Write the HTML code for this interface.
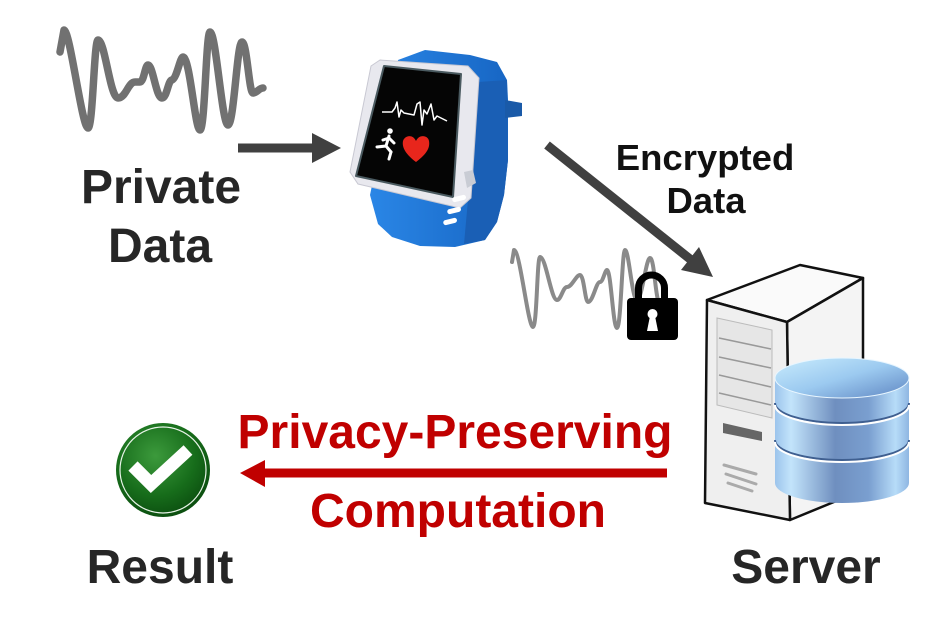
<!DOCTYPE html>
<html><head><meta charset="utf-8"><style>
html,body{margin:0;padding:0;background:#fff;}
svg{display:block;}
text{font-family:"Liberation Sans",Arial,sans-serif;font-weight:bold;}
</style></head><body>
<svg width="932" height="622" viewBox="0 0 932 622" xmlns="http://www.w3.org/2000/svg">
<defs>
<linearGradient id="cyl" x1="0" y1="0" x2="1" y2="0">
<stop offset="0" stop-color="#9cc4ec"/><stop offset="0.12" stop-color="#c3e4fb"/><stop offset="0.45" stop-color="#6f8fbf"/><stop offset="0.7" stop-color="#7a9fd0"/><stop offset="0.9" stop-color="#b7dcf8"/><stop offset="1" stop-color="#8fb6e2"/>
</linearGradient>
<linearGradient id="cyltop" x1="0" y1="0" x2="1" y2="1">
<stop offset="0" stop-color="#c9ecfd"/><stop offset="0.5" stop-color="#9ccaf0"/><stop offset="1" stop-color="#5f86c2"/>
</linearGradient>
<radialGradient id="chk" cx="0.42" cy="0.35" r="0.7">
<stop offset="0" stop-color="#3c9a3c"/><stop offset="0.6" stop-color="#176d1b"/><stop offset="1" stop-color="#0a4a0e"/>
</radialGradient>
<linearGradient id="band" x1="0" y1="0" x2="1" y2="0">
<stop offset="0" stop-color="#2a86e6"/><stop offset="1" stop-color="#1766c4"/>
</linearGradient>
</defs>

<!-- waveform 1 -->
<path d="M60,52 L64,30 C70,30 82,128 88,128 C93,128 94,40 98,40 C105,40 110,98 118,98 C126,98 128,82 135,82 L140,82 C144,82 145,65 148,65 C153,65 156,98 162,98 C167,98 168,80 172,80 C177,78 180,57 183,57 C190,57 195,130 200,130 C205,130 206,32 210,32 C216,32 222,125 228,125 C234,125 237,42 242,42 C247,42 249,93 253,93 C257,93 259,88 263,88" fill="none" stroke="#717171" stroke-width="7.5" stroke-linejoin="round" stroke-linecap="round"/>

<!-- arrow 1 -->
<line x1="238" y1="148" x2="316" y2="148" stroke="#404040" stroke-width="9"/>
<polygon points="312,133 341,148 312,163" fill="#404040"/>

<!-- Private Data -->
<text x="161" y="203" font-size="48" fill="#262626" text-anchor="middle">Private</text>
<text x="160" y="262" font-size="48" fill="#262626" text-anchor="middle">Data</text>

<!-- watch -->
<polygon points="398,60 425,50 470,55 497,62 507,80 508,100 508,160 504,195 497,222 485,240 455,247 420,246 392,237 378,224 370,195" fill="url(#band)"/>
<polygon points="478,82 507,80 508,160 504,195 497,222 485,240 464,244 468,200" fill="#1a5fb5"/>
<polygon points="505,100 522,103 522,116 505,118" fill="#1a5aa8"/>
<polygon points="380,60 468,66 479,78 471,198 460,208 358,184 350,172 371,66" fill="#e8e8ee" stroke="#c8c8d2" stroke-width="1"/>
<polygon points="384,66 461,74 453,197 356,176" fill="#050505" stroke="#4a5a60" stroke-width="2" stroke-linejoin="round"/>
<polygon points="464,172 473,170 476,183 467,188" fill="#c9ccd4"/>
<g fill="#fff">
<rect x="452" y="196" width="14" height="5" rx="2.5" transform="rotate(-14 459 198)"/>
<rect x="447" y="208" width="14" height="5" rx="2.5" transform="rotate(-14 454 210)"/>
<rect x="443" y="219" width="14" height="5" rx="2.5" transform="rotate(-14 450 221)"/>
</g>
<polyline points="382,112 392,112 395,108 397,102 399,117 401,110 404,113 414,115 417,104 420,102 422,125 424,110 427,114 431,104 434,120 437,116 447,121" fill="none" stroke="#fff" stroke-width="1.5" stroke-linejoin="round"/>
<g stroke="#fff" stroke-width="3" stroke-linecap="round" fill="none">
<circle cx="390" cy="131" r="2.8" fill="#fff" stroke="none"/>
<line x1="389" y1="136" x2="386" y2="146"/>
<line x1="386" y1="146" x2="377" y2="147"/>
<line x1="386" y1="146" x2="391" y2="152"/>
<line x1="391" y1="152" x2="389" y2="159"/>
<line x1="389" y1="138" x2="383" y2="140"/>
<line x1="389" y1="138" x2="394" y2="143"/>
</g>
<path d="M416,162 C404,153 402,146 403,141 C405,135 413,134 416,141 C419,134 428,135 429,141 C430,147 428,153 416,162Z" fill="#e8261c"/>

<!-- diagonal arrow -->
<line x1="547" y1="145" x2="695" y2="263" stroke="#404040" stroke-width="9"/>
<polygon points="713,277 681,270 699,247" fill="#404040"/>

<!-- Encrypted Data -->
<text x="705" y="170" font-size="36.5" fill="#111" text-anchor="middle">Encrypted</text>
<text x="706" y="213" font-size="36.5" fill="#111" text-anchor="middle">Data</text>

<!-- waveform 2 -->
<path d="M512,262 L514,250 C520,250 528,327 533,327 C537,327 537,257 540,257 C546,257 551,300 557,300 C561,300 563,287 567,287 C572,287 576,275 580,275 C584,275 585,302 588,302 C593,302 596,282 600,282 C603,282 605,270 607,270 C611,270 613,328 617,328 C621,328 622,250 625,250 C629,250 632,300 637,300 C642,300 646,258 650,258 C654,258 655,290 658,300" fill="none" stroke="#8a8a8a" stroke-width="4" stroke-linejoin="round" stroke-linecap="round"/>

<!-- lock -->
<path d="M638.5,300 L638.5,288 A13,13 0 0 1 664.5,288 L664.5,300" fill="none" stroke="#000" stroke-width="7"/>
<rect x="627" y="298" width="51" height="42" rx="4" fill="#000"/>
<circle cx="652.5" cy="314" r="5" fill="#fff"/>
<polygon points="650,316 655,316 658,331 647,331" fill="#fff"/>

<!-- server tower -->
<polygon points="707,300 800,265 863,278 787,322" fill="#fafafa" stroke="#111" stroke-width="2.5" stroke-linejoin="round"/>
<polygon points="787,322 863,278 863,490 790,520" fill="#f4f4f4" stroke="#111" stroke-width="2.5" stroke-linejoin="round"/>
<polygon points="707,300 787,322 790,520 705,503" fill="#efefef" stroke="#111" stroke-width="2.5" stroke-linejoin="round"/>
<polygon points="717,318 772,330 772,418 717,405" fill="#e6e6e6" stroke="#bbb" stroke-width="1"/>
<g stroke="#999" stroke-width="1.5">
<line x1="719" y1="338" x2="771" y2="349"/>
<line x1="719" y1="357" x2="771" y2="368"/>
<line x1="719" y1="375" x2="771" y2="387"/>
<line x1="719" y1="393" x2="771" y2="405"/>
</g>
<polygon points="723,423 762,432 762,441 723,433" fill="#666"/>
<g stroke="#aaa" stroke-width="3" stroke-linecap="round">
<line x1="724" y1="465" x2="756" y2="474"/>
<line x1="726" y1="474" x2="756" y2="484"/>
<line x1="728" y1="483" x2="752" y2="491"/>
</g>

<!-- database -->
<path d="M775,378 L775,483 A67,20 0 0 0 909,483 L909,378 Z" fill="url(#cyl)"/>
<path d="M775,403 A67,20 0 0 0 909,403" fill="none" stroke="#3f5f90" stroke-width="2"/>
<path d="M775,405 A67,20 0 0 0 909,405" fill="none" stroke="#fff" stroke-width="2"/>
<path d="M775,440 A67,20 0 0 0 909,440" fill="none" stroke="#3f5f90" stroke-width="2"/>
<path d="M775,442 A67,20 0 0 0 909,442" fill="none" stroke="#fff" stroke-width="2"/>
<ellipse cx="842" cy="378" rx="67" ry="20" fill="url(#cyltop)" stroke="#e8f6ff" stroke-width="1"/>

<!-- red arrow -->
<line x1="667" y1="473" x2="258" y2="473" stroke="#c00000" stroke-width="9"/>
<polygon points="240,473 265,460 265,487" fill="#c00000"/>
<text x="455" y="448" font-size="48" fill="#c00000" text-anchor="middle">Privacy-Preserving</text>
<text x="458" y="527" font-size="48" fill="#c00000" text-anchor="middle">Computation</text>

<!-- check -->
<circle cx="163" cy="470" r="47" fill="url(#chk)"/>
<circle cx="163" cy="470" r="43" fill="none" stroke="#e8f3e8" stroke-width="1.2"/>
<polyline points="133,466 151,484 188,450" fill="none" stroke="#fff" stroke-width="13" stroke-linejoin="miter"/>

<!-- labels -->
<text x="160" y="583" font-size="48" fill="#262626" text-anchor="middle">Result</text>
<text x="806" y="583" font-size="48" fill="#262626" text-anchor="middle">Server</text>
</svg>
</body></html>
